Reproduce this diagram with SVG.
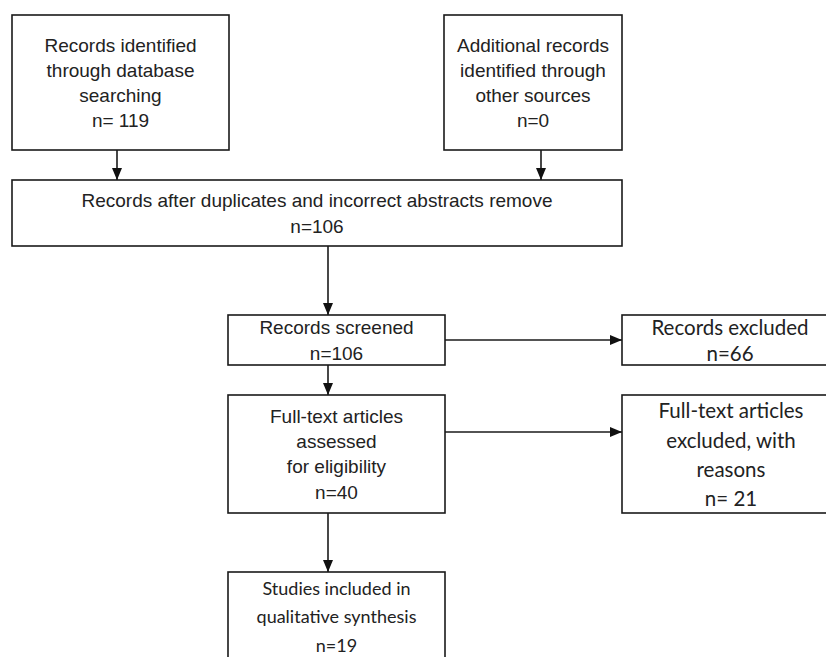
<svg xmlns="http://www.w3.org/2000/svg" width="826" height="657" viewBox="0 0 826 657">
<style>
.box{fill:#fff;stroke:#1a1a1a;stroke-width:1.6}
.t{font-family:"Liberation Sans",Arial,sans-serif;font-size:19px;fill:#222;text-anchor:middle}
.c{font-family:Lato,"Open Sans",sans-serif;font-size:20.5px;fill:#222;text-anchor:middle}
.s{font-size:18px}
.ln{stroke:#1a1a1a;stroke-width:1.6;fill:none}
</style>
<defs>
<marker id="ah" viewBox="0 0 12 10" refX="12" refY="5" markerWidth="12" markerHeight="10" markerUnits="userSpaceOnUse" orient="auto">
<path d="M0,0 L12,5 L0,10 z" fill="#111"/>
</marker>
</defs>
<rect width="826" height="657" fill="#fff"/>
<g id="connectors">
<line class="ln" x1="117" y1="150" x2="117" y2="180" marker-end="url(#ah)"/>
<line class="ln" x1="541" y1="150" x2="541" y2="180" marker-end="url(#ah)"/>
<line class="ln" x1="328" y1="246" x2="328" y2="315" marker-end="url(#ah)"/>
<line class="ln" x1="328" y1="365" x2="328" y2="395" marker-end="url(#ah)"/>
<line class="ln" x1="328" y1="513" x2="328" y2="572" marker-end="url(#ah)"/>
<line class="ln" x1="445" y1="340" x2="622" y2="340" marker-end="url(#ah)"/>
<line class="ln" x1="445" y1="432" x2="622" y2="432" marker-end="url(#ah)"/>
</g>
<g id="db">
<rect class="box" x="12" y="15" width="217" height="135"/>
<text class="t" x="120.5" y="52">Records identified</text>
<text class="t" x="120.5" y="77">through database</text>
<text class="t" x="120.5" y="102">searching</text>
<text class="t" x="120.5" y="127">n= 119</text>
</g>
<g id="other">
<rect class="box" x="444" y="15" width="178" height="135"/>
<text class="t" x="533" y="52">Additional records</text>
<text class="t" x="533" y="77">identified through</text>
<text class="t" x="533" y="102">other sources</text>
<text class="t" x="533" y="127">n=0</text>
</g>
<g id="dedup">
<rect class="box" x="12" y="180" width="610" height="66"/>
<text class="t" x="317" y="207">Records after duplicates and incorrect abstracts remove</text>
<text class="t" x="317" y="233">n=106</text>
</g>
<g id="screened">
<rect class="box" x="228" y="315" width="217" height="50"/>
<text class="t" x="336.5" y="334">Records screened</text>
<text class="t" x="336.5" y="360">n=106</text>
</g>
<g id="excluded">
<rect class="box" x="622" y="315" width="220" height="50"/>
<text class="c" x="730" y="335">Records excluded</text>
<text class="c" x="730" y="361">n=66</text>
</g>
<g id="fulltext">
<rect class="box" x="228" y="395" width="217" height="118"/>
<text class="t" x="336.5" y="423">Full-text articles</text>
<text class="t" x="336.5" y="448">assessed</text>
<text class="t" x="336.5" y="473">for eligibility</text>
<text class="t" x="336.5" y="499">n=40</text>
</g>
<g id="ftexcluded">
<rect class="box" x="622" y="395" width="220" height="118"/>
<text class="c" x="731" y="418">Full-text articles</text>
<text class="c" x="731" y="448">excluded, with</text>
<text class="c" x="731" y="477">reasons</text>
<text class="c" x="731" y="506">n= 21</text>
</g>
<g id="included">
<rect class="box" x="228" y="572" width="217" height="100"/>
<text class="c s" x="336.5" y="595">Studies included in</text>
<text class="c s" x="336.5" y="623">qualitative synthesis</text>
<text class="c s" x="336.5" y="652">n=19</text>
</g>
</svg>
